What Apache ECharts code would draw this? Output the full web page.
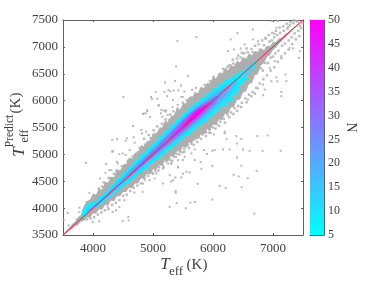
<!DOCTYPE html>
<html><head><meta charset="utf-8">
<script src="https://cdn.jsdelivr.net/npm/echarts@6/dist/echarts.min.js"></script>
<style>html,body{margin:0;padding:0;background:#fff}#c{width:374px;height:282px}</style>
</head><body><div id="c"></div>
<script>
const xTicks=[4000,5000,6000,7000];
const yTicks=[3500,4000,4500,5000,5500,6000,6500,7000,7500];
const colorbarTop=[50];
const grayT=[3500,3550,3600,3650,3700,3750,3800,3850,3900,3950,4000,4050,4100,4150,4200,4250,4300,4350,4400,4450,4500,4550,4600,4650,4700,4750,4800,4850,4900,4950,5000,5050,5100,5150,5200,5250,5300,5350,5400,5450,5500,5550,5600,5650,5700,5750,5800,5850,5900,5950,6000,6050,6100,6150,6200,6250,6300,6350,6400,6450,6500,6550,6600,6650,6700,6750,6800,6850,6900,6950,7000,7050,7100,7150,7200,7250,7300,7350,7400,7450,7500];
const grayUp=[15,25,30,50,45,80,70,200,230,210,270,200,260,190,290,220,280,230,320,250,300,260,340,270,330,290,370,300,350,310,400,320,380,340,430,350,410,380,460,380,440,400,470,400,450,390,460,380,430,370,440,360,400,340,410,310,360,290,340,260,310,230,280,190,230,130,170,90,120,60,90,40,60,25,40,20,25,15,15,10,0];
const grayLow=[-15,-25,-25,-40,-35,-60,-50,-90,-70,-130,-100,-150,-120,-180,-140,-200,-160,-220,-180,-230,-200,-250,-220,-280,-240,-290,-250,-300,-260,-320,-280,-340,-300,-360,-310,-380,-330,-390,-340,-400,-360,-430,-380,-440,-400,-470,-420,-480,-430,-500,-450,-500,-450,-510,-440,-500,-430,-470,-390,-430,-350,-380,-290,-320,-220,-240,-140,-150,-90,-100,-60,-60,-40,-35,-25,-20,-20,-15,-15,-10,0];
const cyanT=[3800,3850,3900,3950,4000,4050,4100,4150,4200,4250,4300,4350,4400,4450,4500,4550,4600,4650,4700,4750,4800,4850,4900,4950,5000,5050,5100,5150,5200,5250,5300,5350,5400,5450,5500,5550,5600,5650,5700,5750,5800,5850,5900,5950,6000,6050,6100,6150,6200,6250,6300,6350,6400,6450,6500,6550,6600,6650,6700];
const cyanUp=[50,150,180,150,120,80,120,70,110,80,140,100,160,110,170,130,180,140,200,160,210,170,220,170,230,180,240,190,250,200,260,210,270,220,280,230,280,230,280,220,260,210,240,190,230,180,220,160,190,130,160,90,120,50,80,40,50,40,30];
const cyanLow=[20,10,-10,-15,-10,-40,-60,-50,-80,-60,-90,-70,-110,-80,-130,-100,-140,-110,-150,-110,-160,-120,-170,-130,-180,-140,-190,-150,-200,-160,-210,-170,-220,-180,-240,-190,-250,-210,-260,-220,-270,-230,-280,-240,-290,-240,-290,-230,-290,-220,-280,-200,-240,-160,-180,-100,-80,-30,10];
const skyT=[3900,4000,4100,4200,4300,4400,4500,4600,4700,4800,4900,5000,5100,5200,5300,5400,5500,5600,5700,5800,5900,6000,6100,6200,6300,6400];
const skyUp=[100,60,40,50,70,90,80,110,100,130,120,150,140,170,170,200,190,210,200,190,160,150,110,90,50,20];
const skyLow=[20,-5,-25,-40,-40,-55,-60,-70,-80,-90,-90,-100,-120,-120,-130,-140,-150,-160,-170,-180,-180,-190,-190,-190,-170,-100];
const blueT=[3900,4000,4200,4400,4600,4800,5000,5200,5400,5600,5800,6000,6200,6300];
const blueUp=[50,30,20,50,80,90,100,130,150,160,130,90,40,0];
const blueLow=[40,0,-20,-30,-40,-50,-60,-80,-100,-120,-130,-130,-120,-40];
const periT=[4600,4800,5000,5200,5400,5600,5800,6000,6100];
const periUp=[30,50,70,90,130,150,120,50,0];
const periLow=[-10,-20,-40,-50,-70,-90,-100,-90,-40];
const violetT=[5300,5400,5500,5600,5700,5800,5900,6000];
const violetUp=[30,60,90,110,120,90,50,0];
const violetLow=[-10,-20,-30,-40,-50,-50,-40,-10];
const magentaT=[5500,5600,5700,5800,5900];
const magentaUp=[20,60,80,60,10];
const magentaLow=[0,-10,-20,-20,0];
const diagonal=[[3500,3500],[7500,7500]];
const cyanPatches=[[6420,6200],[6480,6350],[6520,6480],[6560,6400],[6600,6610],[6640,6600],[6670,6640],[6450,6520],[6380,6130],[6330,6010],[6280,6000],[6220,5920],[3840,3950]];
const outliers=[[5723,7183],[5406,7108],[5384,6635],[5584,6455],[5201,6337],[5367,6368],[5467,6281],[4506,6069],[4967,6069],[4984,6032],[5073,6038],[5045,6163],[5190,6163],[5256,6194],[5290,6175],[5345,6188],[5423,6194],[5523,6169],[5651,6200],[5717,6237],[5473,6069],[5495,6069],[5234,6082],[5334,6013],[5095,5908],[5178,5814],[5217,5820],[4901,5820],[4845,5758],[4951,5696],[5134,5765],[5156,5702],[5245,5734],[5328,5877],[5412,5920],
[6689,3898],[5989,4159],[5695,4116],[5622,4103],[5395,4097],[5545,3998],[5278,4023],[5378,4321],[5378,4284],[5745,4452],[6111,4408],[6211,4371],[6478,4390],[6578,4557],[6345,4620],[6428,4589],[6728,4694],[6472,4788],[6400,4943],[5989,4788],[5806,4732],[5795,4856],[5695,4893],[5611,4663],[5500,4638],[5417,4756],[5372,4570],[5300,4495],[5306,4831],[5417,4893],[5900,5005],[6028,5080],[5989,5067],[6167,5092],[6278,5092],[6500,5092],[6611,5067],[6828,5067],[7128,5067],[6400,5204],[6472,5285],[6389,5341],[6739,5341],[6911,5353],[6228,5285],[6195,5422],[6195,5391],[6017,5372],[5889,5403],[5934,5403],[5850,5080],[5528,4955],[5639,5018],[5695,5092],[5528,5049],
[6406,7257],[6662,7325],[6984,7481],[7084,7481],[7406,7468],[7056,7356],[7251,7369],[7028,7245],[6873,7170],[6751,7108],[6667,7139],[6528,7045],[6462,6971],[6351,6952],[6251,6921],[6295,7139],[7334,6971],[7445,6921],[7434,6797],[7140,6828],[7028,6735],[6945,6610],[7278,6983],[7206,6486],[7073,6361],[6973,6361],[7056,6436],[7223,6361],[6862,6206],[6834,6100],[7140,6162],[7140,6082],[6584,6019],[6751,6225],[6834,6299],
[3884,4844],[4217,4819],[4439,5005],[4495,5018],[4328,5061],[4495,3762],[4589,3836],[4595,3774],[4690,4290],[4828,4303],[4523,4147],[4439,4023],[4384,3961],[4245,4023],[4328,3930],[4106,3755],[3995,3743],[3578,3911],[3595,3681],[3512,3774],[3728,3787],[3773,3930],[3773,4010],[3895,4116],[3939,4284],[4095,4365],[4117,4551],[4206,4657],[4273,4707],[4412,4831],
[5095,5920],[4834,5752],[4878,5764],[4906,5802],[5211,5795],[5139,5826],[4667,5528],[4806,5453],[4817,5391],[4889,5422],[4322,5267],[4400,5285],[4545,5254],[4567,5298],[4678,5317],[4695,5217],[4611,5080],[4322,5049],[4545,4987],[4400,4863],[4306,4707],[5417,4769],[5556,4676],[5473,4570],[5278,4614],[5167,4458],[5334,4520],[5028,4551],[4945,4520],[4861,4520],[4834,4458],[5056,4645],[5167,4738],[5500,4894],[5306,4831]];
const upperFuzz=[[4100,4350],[4150,4400],[4180,4480],[4220,4450],[4260,4560],[4300,4560],[4350,4640],[4390,4700],[4440,4680],[4480,4780],[4530,4800],[4580,4880],[4620,4860],[4660,4960],[4700,4990],[4750,5040],[4780,5120],[4830,5110],[4870,5180],[4920,5200],[4960,5300],[5000,5280],[5050,5380],[5090,5400],[5130,5480],[5180,5500],[5230,5560],[5270,5640],[5320,5640],[5370,5720],[5420,5750],[5470,5830],[5520,5860],[5570,5900],[5620,5980],[5670,6000],[5720,6080],[5770,6120],[5830,6150],[5880,6240],[5930,6270],[5980,6340],[6030,6380],[6080,6420],[6130,6500],[6190,6530],[6240,6620],[6290,6660],[6340,6690],[6400,6780],[6460,6800],[6520,6880],[6580,6900],[6640,6960],[6700,7020],[6760,7050],[6820,7120],[6880,7150],[6930,7220],[6990,7260],[7050,7300],[7110,7360],[7170,7380],[7230,7430],[7290,7460],[7350,7490],
[4850,5290],[4930,5360],[5010,5450],[5070,5520],[5150,5570],[5210,5650],[5290,5740],[5340,5800],[5410,5850],[5500,5960],[5560,6010],[5640,6060],[5700,6130],[5800,6220],[5860,6290],[5950,6360],[6010,6440],[6100,6490],[6170,6590],[6260,6650],[6330,6760],[6420,6840],[6480,6890],[6560,6970]];
const lowerFuzz=[[3900,3790],[3960,3810],[4020,3830],[4080,3880],[4140,3920],[4200,3960],[4260,3980],[4320,4060],[4380,4100],[4440,4150],[4500,4230],[4560,4250],[4620,4320],[4680,4380],[4740,4420],[4800,4460],[4860,4560],[4920,4600],[4980,4660],[5040,4690],[5100,4760],[5160,4800],[5220,4870],[5280,4900],[5340,4960],[5400,5010],[5460,5050],[5520,5100],[5580,5170],[5640,5200],[5700,5280],[5760,5320],[5820,5370],[5880,5420],[5940,5460],[6000,5500],[6060,5560],[6120,5610],[6180,5660],[6240,5740],[6300,5780],[6360,5860],[6420,5900],[6480,5960],[6540,6040],[6600,6110],[6660,6160],[6720,6240],[6780,6320],[6840,6400],[6900,6470],[6960,6560],[7020,6620],[7080,6720],[7140,6790],[7200,6880],[7260,6950],[7320,7050],[7380,7140],[7440,7200],
[5000,4640],[5090,4700],[5180,4760],[5250,4830],[5320,4880],[5380,4950],[5440,5000],[5500,5040],[5600,5120],[5680,5180],[5740,5230],[5800,5290],[5880,5340],[5960,5400],[6040,5480],[6100,5530],[6200,5590],[6270,5690],[6340,5750],[6400,5810],[6470,5880],[6560,5970],[6640,6080],[6700,6130]];
const highEndDots=[[6750,6900],[6780,6950],[6800,6600],[6830,6560],[6850,7030],[6870,6700],[6900,6980],[6920,6700],[6940,7100],[6960,6800],[6980,7120],[7000,6820],[7020,7180],[7040,6880],[7070,7220],[7090,6930],[7120,7260],[7150,7020],[7180,7300],[7200,7060],[7240,7340],[7260,7120],[7280,7400],[7310,7180],[7340,7440],[7360,7250],[7400,7480],[7420,7300],[7450,7390],[7470,7350],[7490,7440],[6700,6850],[6720,6500],[6660,6900],[6650,6430]];

const ink='#404040', frame='#606060', serif='"Liberation Serif"';
function band(name,T,up,low,color,z){
  return {type:'custom',name,xAxisIndex:0,yAxisIndex:0,z,silent:true,clip:true,
    data:[0],
    renderItem:(p,api)=>{
      const pts=[];
      T.forEach((t,i)=>pts.push(api.coord([t,t+up[i]])));
      for(let i=T.length-1;i>=0;i--)pts.push(api.coord([T[i],T[i]+low[i]]));
      return {type:'polygon',shape:{points:pts},style:{fill:color}};
    }};
}
function plainAxis(pos,extra){
  return Object.assign({type:'value',position:pos,min:3500,max:7500,
    axisLine:{show:true,onZero:false,lineStyle:{color:frame,width:1}},
    axisTick:{show:true,inside:true,length:2,lineStyle:{color:frame}},
    axisLabel:{show:false},splitLine:{show:false}},extra);
}
const plain=v=>String(v);
const chart=echarts.init(document.getElementById('c'),null,{renderer:'canvas'});
const tf=(t,x,y,size,style,rot)=>({type:'text',x,y,rotation:rot||0,silent:true,
  style:{text:t,fontFamily:serif,fontSize:size,fontStyle:style||'normal',fill:ink,align:'center',verticalAlign:'middle'}});
const R=Math.PI/2;
chart.setOption({
  animation:false,backgroundColor:'#fff',
  grid:[{left:63,top:20,width:240,height:215},{left:310,top:20,width:14,height:215}],
  xAxis:[
    plainAxis('bottom',{gridIndex:0,
      axisTick:{show:true,inside:true,length:2,customValues:xTicks,lineStyle:{color:frame}},
      axisLabel:{show:true,customValues:xTicks,formatter:plain,color:ink,fontFamily:serif,fontSize:13,margin:7}}),
    plainAxis('top',{gridIndex:0,axisTick:{show:true,inside:true,length:2,customValues:xTicks,lineStyle:{color:frame}}}),
    {type:'category',gridIndex:1,data:['N'],axisLine:{show:true,lineStyle:{color:frame}},axisTick:{show:false},axisLabel:{show:false}},
    {type:'category',gridIndex:1,position:'top',data:['N'],axisLine:{show:true,lineStyle:{color:frame}},axisTick:{show:false},axisLabel:{show:false}}
  ],
  yAxis:[
    plainAxis('left',{gridIndex:0,interval:500,
      axisTick:{show:true,inside:true,length:2,lineStyle:{color:frame}},
      axisLabel:{show:true,customValues:yTicks,formatter:plain,color:ink,fontFamily:serif,fontSize:13,margin:5}}),
    plainAxis('right',{gridIndex:0,interval:500}),
    {type:'value',gridIndex:1,position:'right',min:5,max:50,interval:5,
      axisLine:{show:true,onZero:false,lineStyle:{color:frame}},
      axisTick:{show:true,inside:true,length:2,lineStyle:{color:frame}},
      axisLabel:{color:ink,fontFamily:serif,fontSize:12,margin:4},splitLine:{show:false},
      name:'N',nameLocation:'middle',nameGap:19,nameRotate:-90,
      nameTextStyle:{color:ink,fontFamily:serif,fontSize:14}},
    {type:'value',gridIndex:1,position:'left',min:5,max:50,
      axisLine:{show:true,onZero:false,lineStyle:{color:frame}},axisTick:{show:false},axisLabel:{show:false},splitLine:{show:false}}
  ],
  series:[
    {type:'scatter',data:outliers,symbol:'rect',symbolSize:2,itemStyle:{color:'#a8a8a8'},z:1,silent:true},
    {type:'scatter',data:upperFuzz.concat(lowerFuzz,highEndDots),symbol:'rect',symbolSize:2.5,itemStyle:{color:'#acacac'},z:1,silent:true},
    band('gray',grayT,grayUp,grayLow,'#aeaeae',2),
    band('cyan',cyanT,cyanUp,cyanLow,'#14ebff',3),
    {type:'scatter',data:cyanPatches,symbol:'rect',symbolSize:3,itemStyle:{color:'#14ebff'},z:3,silent:true},
    band('sky',skyT,skyUp,skyLow,'#38ccff',4),
    band('blue',blueT,blueUp,blueLow,'#5fa8ff',5),
    band('peri',periT,periUp,periLow,'#8c73ff',6),
    band('violet',violetT,violetUp,violetLow,'#c03fff',7),
    band('magenta',magentaT,magentaUp,magentaLow,'#fa05ff',8),
    {type:'line',data:diagonal,symbol:'none',lineStyle:{color:'#f02038',width:1},z:9,silent:true},
    {type:'bar',xAxisIndex:2,yAxisIndex:2,data:colorbarTop,barWidth:'100%',silent:true,
      itemStyle:{color:new echarts.graphic.LinearGradient(0,0,0,1,[{offset:0,color:'#ff00ff'},{offset:1,color:'#00ffff'}])}}
  ],
  graphic:[
    tf('T',165,265,17,'italic'),tf('eff',176,272,13),tf('(K)',197,265,15),
    tf('T',20,152,17,'italic',R),tf('Predict',10,131,11.5,'normal',R),tf('eff',25,136,12,'normal',R),tf('(K)',16,103,15,'normal',R)
  ]
});
</script></body></html>
